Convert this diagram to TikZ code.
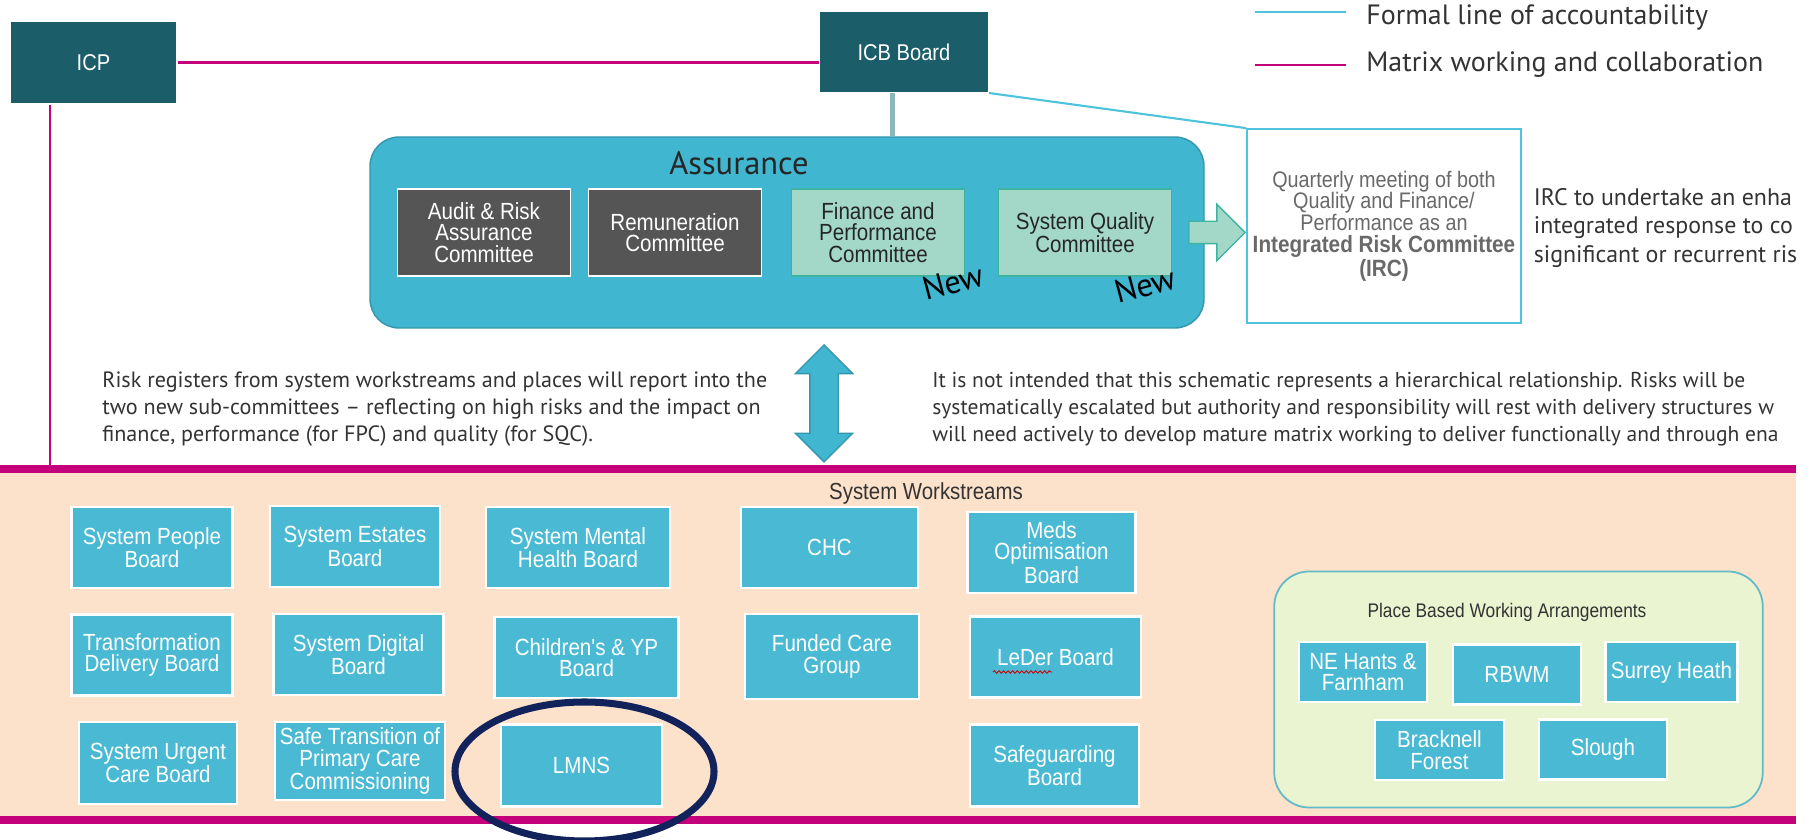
\documentclass[tikz,border=0pt]{standalone}
\usepackage{fontspec}
\usepackage{tikz}
\usetikzlibrary{arrows.meta,calc,positioning,shapes.arrows,decorations.pathmorphing}
\setmainfont{PT Sans}
\newfontfamily\boxfont[FakeStretch=0.88]{Liberation Sans}
\definecolor{icpteal}{RGB}{27,94,106}
\definecolor{collab}{RGB}{196,0,122}
\definecolor{formal}{RGB}{78,195,219}
\definecolor{assure}{RGB}{64,182,208}
\definecolor{assureedge}{RGB}{52,150,172}
\definecolor{wsblue}{RGB}{74,185,211}
\definecolor{darkbox}{RGB}{85,85,85}
\definecolor{newgreen}{RGB}{163,216,201}
\definecolor{newedge}{RGB}{60,180,160}
\definecolor{peach}{RGB}{252,225,203}
\definecolor{lime}{RGB}{235,244,209}
\definecolor{placeedge}{RGB}{96,186,200}
\definecolor{navy}{RGB}{18,35,92}
\definecolor{stem}{RGB}{140,182,186}
\definecolor{ink}{RGB}{51,51,51}
\definecolor{irctext}{RGB}{105,105,105}

\begin{document}
\begin{tikzpicture}[
  boss/.style={draw=white,line width=0.6pt,fill=icpteal,text=white,font=\boxfont\fontsize{13}{13}\selectfont},
  board/.style={draw=white,line width=1.2pt,fill=wsblue,text=white,font=\boxfont\fontsize{13.3}{12.3}\selectfont,align=center,inner sep=1pt,minimum width=3.4cm,minimum height=1.62cm},
  placebox/.style={board,minimum width=2.57cm,minimum height=1.2cm},
  cttee/.style={draw=white,line width=1pt,fill=darkbox,text=white,font=\boxfont\fontsize{13.3}{12.3}\selectfont,align=center,inner sep=1pt,minimum width=3.46cm,minimum height=1.74cm},
  newcttee/.style={cttee,draw=newedge,fill=newgreen,text=black!85},
  newtag/.style={font=\fontsize{18.5}{18.5}\selectfont,rotate=15,inner sep=0pt},
  para/.style={font=\fontsize{12.6}{15.4}\selectfont,text=ink,align=left,anchor=west,inner sep=0pt},
  legendtext/.style={font=\fontsize{15.9}{15.9}\selectfont,text=ink,anchor=west,inner sep=0pt}]
  \useasboundingbox (0,0) rectangle (36.3,16.8);

  \node[boss,minimum width=3.34cm,minimum height=1.66cm] (icp) at (1.87,15.55) {ICP};
  \node[boss,minimum width=3.38cm,minimum height=1.62cm] (icb) at (18.08,15.76) {ICB Board};
  \draw[collab,line width=1.5pt] (icp.east) -- (icp.east -| icb.west);

  \node[legendtext] (lgformal) at (27.32,16.46) {Formal line of accountability};
  \node[legendtext] (lgmatrix) at (27.32,15.5) {Matrix working and collaboration};
  \draw[formal,line width=1.2pt] ([shift={(-0.4,0.1)}]lgformal.west) -- ++(-1.82,0);
  \draw[collab,line width=1.2pt] ([shift={(-0.4,0)}]lgmatrix.west) -- ++(-1.82,0);

  \node[draw=assureedge,line width=0.8pt,fill=assure,rounded corners=0.58cm,minimum width=16.68cm,minimum height=3.82cm] (assure) at (15.74,12.15) {};
  \node[font=\fontsize{18.5}{18.5}\selectfont,text=black!85] (assuretitle) at (14.78,13.54) {Assurance};
  \draw[stem,line width=2.8pt] ([xshift=-0.23cm]icb.south) -- ([xshift=-0.23cm]icb.south |- assure.north);

  \node[cttee] (arac) at (9.68,12.15) {Audit \& Risk\\Assurance\\Committee};
  \node[cttee] (remco) at (13.5,12.15) {Remuneration\\Committee};
  \node[newcttee] (fpc) at (17.56,12.15) {Finance and\\Performance\\Committee};
  \node[newcttee] (sqc) at (21.7,12.15) {System Quality\\Committee};
  \node[newtag] (newfpc) at (19.06,11.16) {New};
  \node[newtag] (newsqc) at (22.9,11.1) {New};

  \node[draw=formal,line width=1pt,fill=white,minimum width=5.48cm,minimum height=3.88cm,align=center,text=irctext,font=\boxfont\fontsize{12.8}{12.4}\selectfont] (irc) at (27.68,12.28) {Quarterly meeting of both\\Quality and Finance/\\Performance as an\\{\bfseries\fontsize{13.4}{13.4}\selectfont Integrated Risk Committee}\\{\bfseries\fontsize{13.4}{13.4}\selectfont (IRC)}};
  \draw[formal,line width=1.2pt] (icb.south east) -- (irc.north west);
  \node[single arrow,draw=newedge,fill=newgreen,line width=0.8pt,inner sep=0.21cm,minimum width=0pt,minimum height=1.12cm,single arrow head extend=0.34cm,anchor=tip] (toirc) at (irc.west |- assure.east) {};
  \node[para,font=\fontsize{13.6}{16.3}\selectfont] (ircnote) at (30.67,12.24) {IRC to undertake an enha\\integrated response to co\\significant or recurrent ris};

  \node[para] (riskreg) at (2.04,8.62) {Risk registers from system workstreams and places will report into the\\two new sub-committees -- reflecting on high risks and the impact on\\finance, performance (for FPC) and quality (for SQC).};
  \node[para,font=\fontsize{12.25}{15.4}\selectfont] (hierarchy) at (18.64,8.62) {It is not intended that this schematic represents a hierarchical relationship. Risks will be\\systematically escalated but authority and responsibility will rest with delivery structures w\\will need actively to develop mature matrix working to deliver functionally and through ena};

  \fill[peach] (0,0.4) rectangle (35.92,7.42);
  \draw[collab,line width=4pt] (0,7.42) coordinate (bandtop) -- (35.92,7.42);
  \draw[collab,line width=4pt] (0,0.4) coordinate (bandfoot) -- (35.92,0.4);
  \draw[collab,line width=1.2pt] ([xshift=-0.87cm]icp.south) -- ([xshift=-0.87cm]icp.south |- bandtop);
  \node[double arrow,rotate=90,draw=assureedge,fill=assure,line width=0.8pt,inner sep=0.27cm,minimum width=0pt,minimum height=2.34cm,double arrow head extend=0.29cm] (updown) at (16.48,8.73) {};

  \node[font=\boxfont\fontsize{13.2}{13.2}\selectfont,text=ink] (wstitle) at (18.52,6.92) {System Workstreams};
  \node[board,minimum width=3.22cm] (people) at (3.04,5.85) {System People\\Board};
  \node[board] (estates) at (7.1,5.87) {System Estates\\Board};
  \node[board,minimum width=3.68cm] (mental) at (11.56,5.85) {System Mental\\Health Board};
  \node[board,minimum width=3.54cm] (chc) at (16.59,5.85) {CHC};
  \node[board,minimum width=3.36cm] (meds) at (21.03,5.75) {Meds\\Optimisation\\Board};
  \node[board,minimum width=3.22cm] (transform) at (3.04,3.7) {Transformation\\Delivery Board};
  \node[board] (digital) at (7.17,3.71) {System Digital\\Board};
  \node[board,minimum width=3.68cm] (cyp) at (11.73,3.65) {Children's \& YP\\Board};
  \node[board,minimum width=3.47cm,minimum height=1.69cm] (funded) at (16.64,3.67) {Funded Care\\Group};
  \node[board,minimum width=3.43cm] (leder) at (21.11,3.66) {LeDer Board};
  \draw[red!80!black,line width=0.5pt,decorate,decoration={snake,amplitude=0.7pt,segment length=2.6pt}] ([shift={(-1.25,-0.3)}]leder.center) -- ([shift={(-0.07,-0.3)}]leder.center);
  \node[board,minimum width=3.17cm,minimum height=1.64cm] (urgent) at (3.16,1.54) {System Urgent\\Care Board};
  \node[board,minimum height=1.57cm] (safe) at (7.2,1.58) {Safe Transition of\\Primary Care\\Commissioning};
  \node[board,minimum width=3.22cm,minimum height=1.64cm] (lmns) at (11.63,1.49) {LMNS};
  \node[board,minimum width=3.38cm,minimum height=1.64cm] (safeguard) at (21.09,1.49) {Safeguarding\\Board};
  \draw[navy,line width=4pt] ([shift={(0.06,-0.12)}]lmns.center) ellipse [x radius=2.59cm,y radius=1.39cm];

  \node[draw=placeedge,line width=1pt,fill=lime,rounded corners=0.7cm,minimum width=9.77cm,minimum height=4.72cm] (places) at (30.37,3.01) {};
  \node[font=\boxfont\fontsize{11.2}{11.2}\selectfont,text=ink] (placetitle) at (30.14,4.56) {Place Based Working Arrangements};
  \node[placebox] (nehants) at (27.26,3.36) {NE Hants \&\\Farnham};
  \node[placebox] (rbwm) at (30.34,3.31) {RBWM};
  \node[placebox,minimum width=2.64cm] (surrey) at (33.43,3.36) {Surrey Heath};
  \node[placebox] (bracknell) at (28.79,1.8) {Bracknell\\Forest};
  \node[placebox,minimum width=2.55cm] (slough) at (32.06,1.81) {Slough};
\end{tikzpicture}
\end{document}
